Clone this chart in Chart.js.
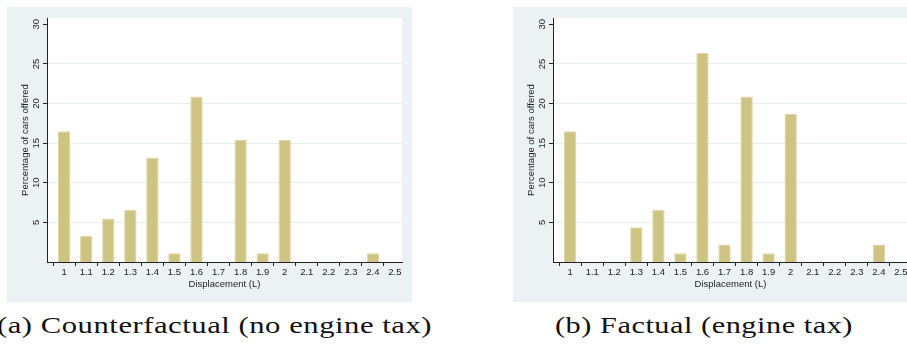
<!DOCTYPE html>
<html>
<head>
<meta charset="utf-8">
<script src="https://cdn.jsdelivr.net/npm/chart.js@4.4.0/dist/chart.umd.min.js"></script>
<style>
  html, body { margin: 0; padding: 0; background: #fff; }
  body { width: 907px; height: 352px; overflow: hidden; position: relative; }
  .panel { position: absolute; top: 7px; width: 405px; height: 295px; background: #eaf2f3; }
  .caption { position: absolute; top: 314px; font-family: "Liberation Serif", "Times New Roman", Times, serif; font-size: 23px;
             line-height: 23px; white-space: nowrap; color: #111; transform-origin: 0 0; letter-spacing: 0.4px; }
</style>
</head>
<body>
<div class="panel" style="left:7px"><canvas id="chartA" width="405" height="295"></canvas></div>
<div class="panel" style="left:513px"><canvas id="chartB" width="405" height="295"></canvas></div>
<div class="caption" id="capA" data-left="-3" data-w="435">(a) Counterfactual (no engine tax)</div>
<div class="caption" id="capB" data-left="555" data-w="298">(b) Factual (engine tax)</div>
<script>
// displacement classes (litres)
const displacement = [1, 1.1, 1.2, 1.3, 1.4, 1.5, 1.6, 1.7, 1.8, 1.9, 2, 2.1, 2.2, 2.3, 2.4, 2.5];
const xTickLabels = ['1', '1.1', '1.2', '1.3', '1.4', '1.5', '1.6', '1.7', '1.8', '1.9', '2', '2.1', '2.2', '2.3', '2.4', '2.5'];

// percentage of cars offered
const counterfactualShare = [16.5, 3.3, 5.5, 6.6, 13.2, 1.1, 20.9, 0, 15.4, 1.1, 15.4, 0, 0, 0, 1.1, 0];
const factualShare = [16.5, 0, 0, 4.4, 6.6, 1.1, 26.4, 2.2, 20.9, 1.1, 18.7, 0, 0, 0, 2.2, 0];

const yTicks = [5, 10, 15, 20, 25, 30];
const yTickLabels = ['5', '10', '15', '20', '25', '30'];

const axisFont = { family: "'Liberation Sans', Arial, sans-serif", size: 9.5 };
const ink = '#222';

// white plot region on the grey-blue graph region
const plotBg = {
    id: 'plotBg',
    beforeDraw(chart) {
        const a = chart.chartArea;
        chart.ctx.save();
        chart.ctx.fillStyle = '#ffffff';
        chart.ctx.fillRect(a.left, a.top, a.right - a.left, a.bottom - a.top);
        chart.ctx.restore();
    }
};

function buildChart(canvasId, values) {
    const points = displacement.map((d, i) => ({ x: d, y: values[i] }));
    return new Chart(document.getElementById(canvasId), {
        type: 'bar',
        data: {
            datasets: [{
                data: points,
                backgroundColor: '#cdc483',
                borderColor: '#ddd6a2',
                borderWidth: 1,
                borderSkipped: 'bottom',
                barPercentage: 0.56,
                categoryPercentage: 1
            }]
        },
        options: {
            responsive: false,
            animation: false,
            layout: { padding: { top: 11, right: 10, left: 0, bottom: 0 } },
            plugins: { legend: { display: false }, tooltip: { enabled: false } },
            scales: {
                x: {
                    type: 'linear',
                    min: 0.922,
                    max: 2.532,
                    offset: false,
                    afterFit(scale) { scale.height = 40; },
                    afterBuildTicks(scale) { scale.ticks = displacement.map(v => ({ value: v })); },
                    ticks: {
                        font: axisFont, color: ink, padding: 1, maxRotation: 0, minRotation: 0, autoSkip: false,
                        callback: (v, i) => xTickLabels[i]
                    },
                    grid: { drawOnChartArea: false, drawTicks: true, tickLength: 4, tickColor: ink, tickWidth: 1 },
                    border: { display: true, color: ink, width: 1 },
                    title: { display: true, text: 'Displacement (L)', font: axisFont, color: ink, padding: { top: 0, bottom: 12 } }
                },
                y: {
                    min: 0,
                    max: 30.8,
                    afterFit(scale) { scale.width = 40; },
                    afterBuildTicks(scale) { scale.ticks = yTicks.map(v => ({ value: v })); },
                    ticks: {
                        font: axisFont, color: ink, padding: 1, minRotation: 90, maxRotation: 90, crossAlign: 'center',
                        callback: (v, i) => yTickLabels[i]
                    },
                    grid: {
                        color: ctx => (ctx.tick && ctx.tick.value === 30) ? 'rgba(0,0,0,0)' : '#e6eff0',
                        lineWidth: 1, drawTicks: true, tickLength: 4, tickColor: ink, tickWidth: 1
                    },
                    border: { display: true, color: ink, width: 1 },
                    title: { display: true, text: 'Percentage of cars offered', font: axisFont, color: ink, padding: { top: 13, bottom: 0 } }
                }
            }
        },
        plugins: [plotBg]
    });
}

buildChart('chartA', counterfactualShare);
buildChart('chartB', factualShare);

// stretch captions to the width they take in the figure
document.querySelectorAll('.caption').forEach(el => {
    el.style.left = el.dataset.left + 'px';
    const w = el.getBoundingClientRect().width;
    el.style.transform = 'scaleX(' + (parseFloat(el.dataset.w) / w) + ')';
});
</script>
</body>
</html>
